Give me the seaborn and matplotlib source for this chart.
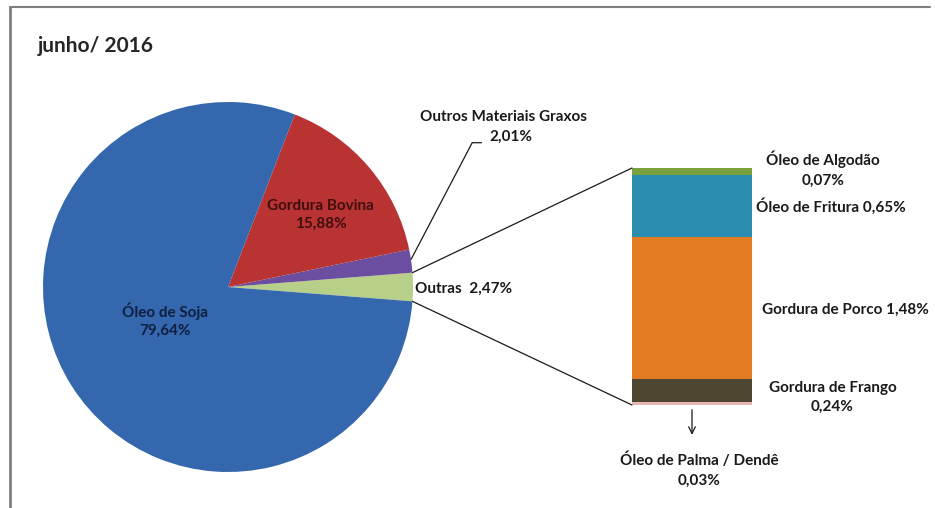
import numpy as np
import matplotlib
matplotlib.use('Agg')
import matplotlib.pyplot as plt
import seaborn as sns
from matplotlib.patches import ConnectionPatch
from matplotlib.lines import Line2D

# dados (% junho/2016)
pie_labels = ['Outras', 'Outros Materiais Graxos', 'Gordura Bovina', 'Óleo de Soja']
pie_values = [2.47, 2.01, 15.88, 79.64]
pie_colors = ['#b7cf88', '#6b4ea0', '#b83331', '#3467ad']

bar_labels = ['Óleo de Algodão', 'Óleo de Fritura', 'Gordura de Porco',
              'Gordura de Frango', 'Óleo de Palma / Dendê']
bar_values = [0.07, 0.65, 1.48, 0.24, 0.03]
bar_colors = ['#79a23c', '#2a8db0', '#e37b22', '#4c4630', '#e9b7b2']

sns.set_theme(style='white')
plt.rcParams['font.family'] = ['Lato', 'DejaVu Sans']
plt.rcParams['font.weight'] = 'bold'

W, H = 935, 508
FS = 11
TXT = '#1a1a1a'
fig = plt.figure(figsize=(W / 100, H / 100), dpi=100)

# moldura (esquerda e topo)
fig.add_artist(Line2D([10 / W, 10 / W], [0, 1 - 7 / H], color='#7f7f7f', lw=2))
fig.add_artist(Line2D([10 / W, 930 / W], [1 - 7 / H, 1 - 7 / H], color='#7f7f7f', lw=1.5))
fig.text(38 / W, 1 - 46 / H, 'junho/ 2016', fontsize=15, fontweight='bold', va='center')

# pizza
cx, cy, r = 228, 287, 185
ax_pie = fig.add_axes([(cx - r) / W, (H - cy - r) / H, 2 * r / W, 2 * r / H])
outras_ang = pie_values[0] / 100 * 360
wedges, _ = ax_pie.pie(pie_values, colors=pie_colors, startangle=-outras_ang / 2,
                       counterclock=True, radius=1,
                       wedgeprops=dict(linewidth=0))
ax_pie.set_xlim(-1, 1)
ax_pie.set_ylim(-1, 1)
ax_pie.axis('off')

ax_pie.text(-0.34, -0.18, 'Óleo de Soja\n79,64%', ha='center', va='center',
            fontsize=FS, color='#0f1f40', linespacing=1.3)
ax_pie.text(0.50, 0.39, 'Gordura Bovina\n15,88%', ha='center', va='center',
            fontsize=FS, color='#3f0f0f', linespacing=1.3)
ax_pie.text(1.01, -0.01, 'Outras  2,47%', ha='left', va='center', fontsize=FS, color=TXT)
ax_pie.text(1.49, 0.92, 'Outros Materiais Graxos', ha='center', va='center', fontsize=FS, color=TXT)
ax_pie.text(1.53, 0.81, '2,01%', ha='center', va='center', fontsize=FS, color=TXT)
ax_pie.plot([0.99, 1.32, 1.37], [0.15, 0.78, 0.78], color=TXT, lw=0.9, clip_on=False)

# barra empilhada (Outras)
bx0, bx1, by0, by1 = 632, 752, 168, 405
ax_bar = fig.add_axes([bx0 / W, (H - by1) / H, (bx1 - bx0) / W, (by1 - by0) / H])
cum = np.cumsum(bar_values[::-1])[::-1]
for top, col in zip(cum, bar_colors):
    sns.barplot(x=[0], y=[top], color=col, width=1, ax=ax_bar, saturation=1,
                linewidth=0)
ax_bar.set_xlim(-0.5, 0.5)
ax_bar.set_ylim(0, sum(bar_values))
ax_bar.axis('off')

tot = sum(bar_values)
ax_bar.text(1.09, tot - 0.01, 'Óleo de Algodão\n0,07%', ha='center', va='center',
            fontsize=FS, color=TXT, linespacing=1.5)
ax_bar.text(1.16, cum[1] - 0.33, 'Óleo de Fritura 0,65%', ha='center', va='center',
            fontsize=FS, color=TXT)
ax_bar.text(0.58, cum[2] - 0.76, 'Gordura de Porco 1,48%', ha='left', va='center',
            fontsize=FS, color=TXT)
ax_bar.text(1.17, cum[3] - 0.19, 'Gordura de Frango\n0,24%', ha='center', va='center',
            fontsize=FS, color=TXT, linespacing=1.5)
ax_bar.text(0.06, -0.68, 'Óleo de Palma / Dendê\n0,03%', ha='center', va='center',
            fontsize=FS, color=TXT, linespacing=1.5)
ax_bar.annotate('', xy=(0.0, -0.34), xytext=(0.0, -0.02),
                arrowprops=dict(arrowstyle='->', color=TXT, lw=0.9),
                annotation_clip=False)

# linhas de ligação
a = np.deg2rad(outras_ang / 2)
for yb, sgn in [(tot, 1), (0, -1)]:
    con = ConnectionPatch(xyA=(np.cos(a), sgn * np.sin(a)), coordsA=ax_pie.transData,
                          xyB=(-0.5, yb), coordsB=ax_bar.transData,
                          color=TXT, lw=0.9)
    fig.add_artist(con)

fig.savefig('out.png', dpi=100)
